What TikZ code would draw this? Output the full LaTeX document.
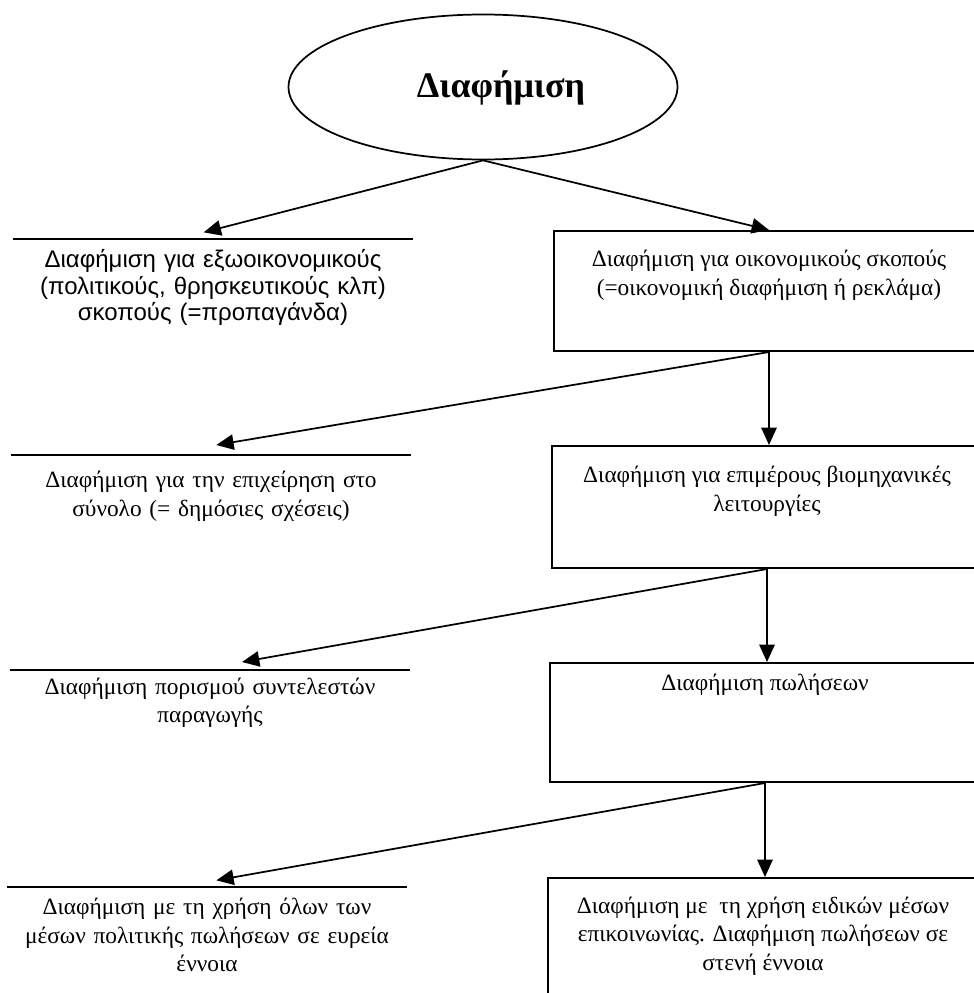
\documentclass[tikz,border=0pt]{standalone}
\usepackage{fontspec}
\setmainfont{Liberation Serif}
\newfontfamily\adsans{Liberation Sans}
\usetikzlibrary{shapes.geometric,arrows.meta,positioning}

\tikzset{
  adarrow/.style={-{Triangle[length=13pt,width=11.5pt]},line width=1.3pt},
  adbox/.style={draw,line width=1.5pt,anchor=north west,minimum width=322.5pt,inner sep=0pt},
  adtext/.style={anchor=north,align=center,inner sep=0pt,font=\fontsize{17.5}{21.5}\selectfont},
  aditem/.style={adtext,text width=300pt},
}

\begin{document}
\begin{tikzpicture}[x=0.75pt,y=-0.75pt]
\clip (0,0) rectangle (974,993);
\node[ellipse,draw,line width=1.3pt,minimum width=291.75pt,minimum height=108.75pt] (root) at (483,87) {};
\node[font=\bfseries\fontsize{27}{32}\selectfont] (roottxt) at (501,88) {Διαφήμιση};

% left column: text under a rule
\node[aditem,inner ysep=7.5pt,font=\adsans\fontsize{18}{20}\selectfont] (propag) at (213,239)
  {Διαφήμιση για εξωοικονομικούς\\(πολιτικούς, θρησκευτικούς κλπ)\\σκοπούς (=προπαγάνδα)};
\node[aditem,inner ysep=12pt] (pubrel) at (211,455)
  {Διαφήμιση για την επιχείρηση στο\\σύνολο (= δημόσιες σχέσεις)};
\node[aditem,inner ysep=5.5pt] (factor) at (210,670)
  {Διαφήμιση πορισμού συντελεστών\\παραγωγής};
\node[aditem,inner ysep=8pt] (broad) at (207,887)
  {Διαφήμιση με τη χρήση όλων των\\μέσων πολιτικής πωλήσεων σε ευρεία\\έννοια};
\foreach \n in {propag,pubrel,factor,broad}
  \draw[line width=1.5pt] (\n.north west) -- (\n.north east);

% right column: boxes
\node[adbox,minimum height=90pt] (econ) at (553,230) {};
\node[adbox,minimum height=91.5pt] (indus) at (551,445) {};
\node[adbox,minimum height=89.25pt] (sales) at (549,662) {};
\node[adbox,minimum height=97.5pt] (narrow) at (547,877) {};
\node[adtext,below=15pt of econ.north] (econtxt)
  {Διαφήμιση για οικονομικούς σκοπούς\\(=οικονομική διαφήμιση ή ρεκλάμα)};
\node[adtext,below=15.5pt of indus.north] (industxt)
  {Διαφήμιση για επιμέρους βιομηχανικές\\λειτουργίες};
\node[adtext,below=9pt of sales.north] (salestxt) {Διαφήμιση πωλήσεων};
\node[adtext,below=14.5pt of narrow.north] (narrowtxt)
  {Διαφήμιση με\ \ τη χρήση ειδικών μέσων\\επικοινωνίας. Διαφήμιση πωλήσεων σε\\στενή έννοια};

% connectors
\draw[adarrow] (root.south) -- ([xshift=-7pt,yshift=5pt]propag.north);
\draw[adarrow] (root.south) -- (econ.north);
\draw[adarrow] (econ.south) -- ([xshift=4pt,yshift=7.5pt]pubrel.north);
\draw[adarrow] (econ.south) -- (econ.south |- indus.north);
\draw[adarrow] (indus.south) -- ([xshift=24pt,yshift=6pt]factor.north);
\draw[adarrow] (indus.south) -- (indus.south |- sales.north);
\draw[adarrow] (sales.south) -- ([xshift=7pt,yshift=5pt]broad.north);
\draw[adarrow] (sales.south) -- (sales.south |- narrow.north);
\end{tikzpicture}
\end{document}
